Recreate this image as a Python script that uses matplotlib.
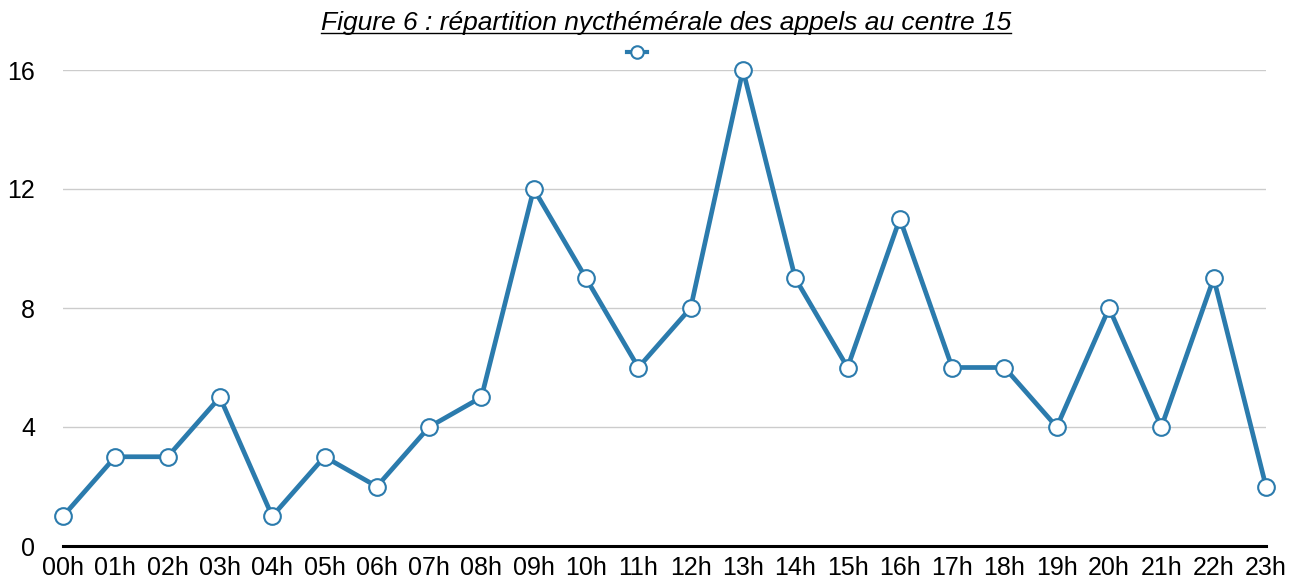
import matplotlib
matplotlib.use("Agg")
import matplotlib.pyplot as plt
from matplotlib.lines import Line2D

plt.rcParams['font.family'] = ['Liberation Sans', 'DejaVu Sans']

hours = ["%02dh" % h for h in range(24)]
calls = [1, 3, 3, 5, 1, 3, 2, 4, 5, 12, 9, 6, 8, 16, 9, 6, 11, 6, 6, 4, 8, 4, 9, 2]
y_ticks = [0, 4, 8, 12, 16]
title = "Figure 6 : répartition nycthémérale des appels au centre 15"

blue = "#2b7bad"

fig = plt.figure(figsize=(13.07, 5.85), dpi=100)
W, H = 1307, 585
ax = fig.add_axes([63 / W, 1 - 546 / H, (1266 - 63) / W, (546 - 70) / H])

x = list(range(len(hours)))
line, = ax.plot(x, calls, color=blue, lw=3.4, marker='o', markersize=12,
                markerfacecolor='white', markeredgecolor=blue, markeredgewidth=1.5,
                clip_on=False, zorder=3)

ax.set_xlim(0, 23)
ax.set_ylim(0, 16)
ax.set_xticks(x)
ax.set_xticklabels(hours)
ax.set_yticks(y_ticks)
ax.tick_params(axis='both', length=0, labelsize=18)
ax.tick_params(axis='y', pad=20)
ax.tick_params(axis='x', pad=7)
ax.grid(axis='y', color='#cccccc', lw=1)
ax.set_axisbelow(True)
for s in ['top', 'right', 'left']:
    ax.spines[s].set_visible(False)
ax.spines['bottom'].set_linewidth(2.2)
ax.spines['bottom'].set_color('black')
ax.spines['bottom'].set_zorder(2)

leg = ax.legend([Line2D([], [], color=blue, lw=3, marker='o', markersize=9,
                        markerfacecolor='white', markeredgecolor=blue, markeredgewidth=1.5)],
                [''], loc='center', bbox_to_anchor=(637 / W, 1 - 53 / H),
                bbox_transform=fig.transFigure, frameon=False, handlelength=1.5,
                handletextpad=0, borderpad=0)

t = fig.text(666 / W, 1 - 23 / H, title, ha='center', va='center',
             fontsize=19, fontstyle='italic')
fig.canvas.draw()
bb = t.get_window_extent()
fig.add_artist(Line2D([bb.x0 / W, bb.x1 / W], [(bb.y0 + 2) / H, (bb.y0 + 2) / H],
                      color='black', lw=1, transform=fig.transFigure))

fig.savefig("out.png", dpi=100)
